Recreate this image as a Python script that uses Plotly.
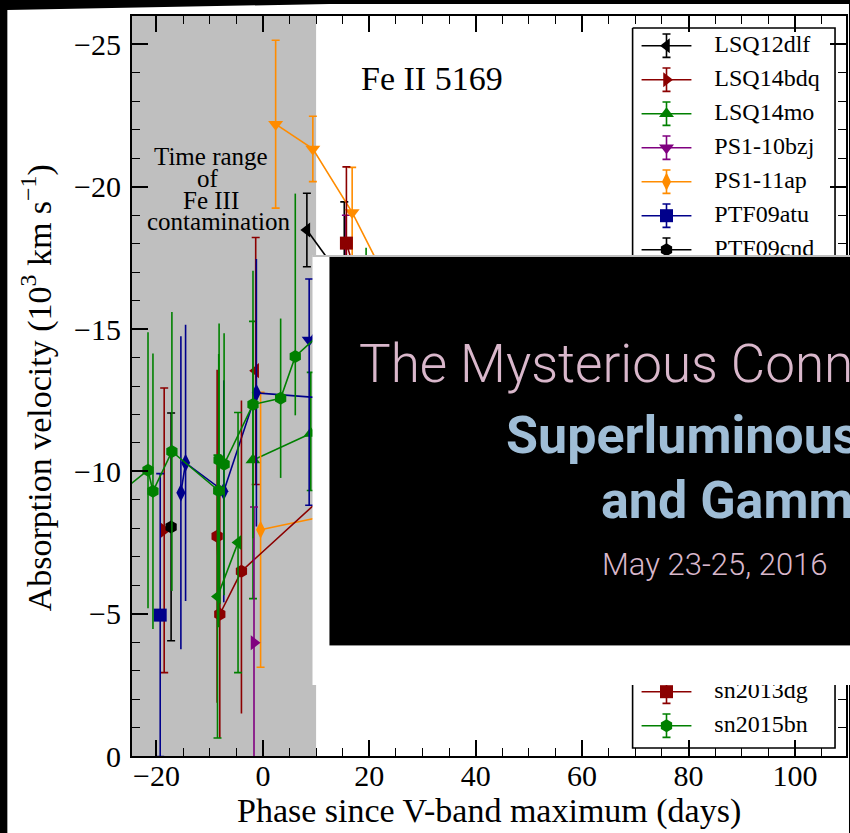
import plotly.graph_objects as go

# ---------------- figure geometry ----------------
FIG_W, FIG_H = 850, 833
M_L, M_R, M_T, M_B = 132, 2, 16, 77

X_RANGE = [-24.6, 109.6]
Y_RANGE = [0, -26]
X_TICKS = [-20, 0, 20, 40, 60, 80, 100]
Y_TICKS = [0, -5, -10, -15, -20, -25]
CONTAM_START, CONTAM_END = -30, 10   # Fe III contamination window (days)

# ---------------- data (phase in days, velocity in 1e3 km/s, errors up/down on screen) ----------------
LSQ12dlf_phase = [8.27, 15.3]
LSQ12dlf_vel = [-18.48, -16.67]
LSQ12dlf_eup = [1.29, 2.8]
LSQ12dlf_edn = [1.29, 2.8]

LSQ14bdq_phase = [-18.55]
LSQ14bdq_vel = [-7.93]
LSQ14bdq_eup = [5.0]
LSQ14bdq_edn = [5.0]

LSQ14mo_phase = [-1.86, 9.0]
LSQ14mo_vel = [-10.4, -11.33]
LSQ14mo_eup = [4.87, 2.15]
LSQ14mo_edn = [4.87, 2.0]

PS1_10bzj_phase = [15.6]
PS1_10bzj_vel = [-16.0]
PS1_10bzj_eup = [3.0]
PS1_10bzj_edn = [3.0]

PS1_11ap_phase = [-0.43, 25.0]
PS1_11ap_vel = [-7.95, -8.95]
PS1_11ap_eup = [4.83, 2.0]
PS1_11ap_edn = [4.83, 2.0]

PTF09atu_phase = [-19.3]
PTF09atu_vel = [-4.95]
PTF09atu_eup = [4.97]
PTF09atu_edn = [4.97]

PTF09cnd_phase = [-17.25]
PTF09cnd_vel = [-8.05]
PTF09cnd_eup = [4.0]
PTF09cnd_edn = [4.0]

# objects whose legend rows are hidden behind the banner (legend slots 7..18)
slot07_phase = [-1.35]
slot07_vel = [-13.54]
slot07_eup = [4.68]
slot07_edn = [4.0]

slot10_phase = [2.4, 9.39, 16.78, 25.0]
slot10_vel = [-22.2, -21.33, -19.1, -16.07]
slot10_eup = [2.95, 1.15, 1.58, 1.4]
slot10_edn = [2.95, 1.15, 1.58, 1.4]

slot11_phase = [-15.41, -14.53, -7.35, -1.22, 25.0]
slot11_vel = [-9.25, -10.3, -9.3, -12.76, -12.38]
slot11_eup = [5.5, 4.85, 3.9, 4.7, 2.0]
slot11_edn = [5.5, 4.85, 3.9, 4.7, 2.0]

slot13_phase = [-8.6, -8.1, -4.03, 20.0]
slot13_vel = [-7.72, -4.98, -6.49, -10.6]
slot13_eup = [5.85, 4.35, 6.0, 2.0]
slot13_edn = [5.85, 4.35, 5.0, 2.0]

slot14_phase = [-8.53, -4.67]
slot14_vel = [-5.6, -7.5]
slot14_eup = [4.97, 4.57]
slot14_edn = [4.97, 4.57]

slot15_phase = [-1.67]
slot15_vel = [-3.98]
slot15_eup = [4.77]
slot15_edn = [4.77]

slot17_phase = [8.7, 18.0]
slot17_vel = [-14.62, -16.8]
slot17_eup = [2.14, 0.6]
slot17_edn = [5.81, 0.6]

sn2013dg_phase = [15.7, 22.0]
sn2013dg_vel = [-18.02, -14.0]
sn2013dg_eup = [2.68, 1.5]
sn2013dg_edn = [2.68, 1.5]

sn2015bn_phase = [-26.0, -21.59, -20.66, -17.1, -8.3, -8.23, -7.29, -1.86, 3.34, 6.09, 19.4]
sn2015bn_vel = [-9.38, -10.04, -9.3, -10.7, -9.32, -10.4, -10.25, -12.35, -12.57, -14.04, -16.3]
sn2015bn_eup = [4.8, 4.85, 4.84, 4.9, 4.8, 4.8, 4.6, 4.7, 2.8, 5.72, 1.56]
sn2015bn_edn = [4.8, 4.85, 4.84, 4.9, 4.8, 4.8, 4.6, 4.7, 2.8, 2.07, 1.56]

LEGEND_NAMES = {0: "LSQ12dlf", 1: "LSQ14bdq", 2: "LSQ14mo", 3: "PS1-10bzj", 4: "PS1-11ap",
                5: "PTF09atu", 6: "PTF09cnd", 19: "sn2013dg", 20: "sn2015bn"}

# ---------------- styles ----------------
COLORS = ["black", "darkred", "green", "purple", "darkorange", "darkblue"]
SYMBOLS = ["triangle-left", "triangle-right", "triangle-up", "triangle-down",
           "diamond-tall", "square", "hexagon"]
SERIF = "Liberation Serif, Times New Roman, serif"
BANNER = "Roboto, Liberation Sans, Arial, sans-serif"

# (slot, phase, vel, err_up, err_down, caps)
series = [
    (0, LSQ12dlf_phase, LSQ12dlf_vel, LSQ12dlf_eup, LSQ12dlf_edn, True),
    (1, LSQ14bdq_phase, LSQ14bdq_vel, LSQ14bdq_eup, LSQ14bdq_edn, True),
    (2, LSQ14mo_phase, LSQ14mo_vel, LSQ14mo_eup, LSQ14mo_edn, True),
    (3, PS1_10bzj_phase, PS1_10bzj_vel, PS1_10bzj_eup, PS1_10bzj_edn, True),
    (4, PS1_11ap_phase, PS1_11ap_vel, PS1_11ap_eup, PS1_11ap_edn, True),
    (5, PTF09atu_phase, PTF09atu_vel, PTF09atu_eup, PTF09atu_edn, True),
    (6, PTF09cnd_phase, PTF09cnd_vel, PTF09cnd_eup, PTF09cnd_edn, True),
    (7, slot07_phase, slot07_vel, slot07_eup, slot07_edn, True),
    (10, slot10_phase, slot10_vel, slot10_eup, slot10_edn, True),
    (11, slot11_phase, slot11_vel, slot11_eup, slot11_edn, False),
    (13, slot13_phase, slot13_vel, slot13_eup, slot13_edn, False),
    (14, slot14_phase, slot14_vel, slot14_eup, slot14_edn, True),
    (15, slot15_phase, slot15_vel, slot15_eup, slot15_edn, True),
    (17, slot17_phase, slot17_vel, slot17_eup, slot17_edn, True),
    (19, sn2013dg_phase, sn2013dg_vel, sn2013dg_eup, sn2013dg_edn, True),
    (20, sn2015bn_phase, sn2015bn_vel, sn2015bn_eup, sn2015bn_edn, False),
]

fig = go.Figure()

for slot, ph, v, eu, ed, caps in series:
    c = COLORS[slot % 6]
    fig.add_trace(go.Scatter(
        x=ph, y=v, mode="lines+markers",
        line=dict(color=c, width=1.6),
        marker=dict(symbol=SYMBOLS[slot % 7], size=13, color=c, line=dict(width=0)),
        error_y=dict(type="data", symmetric=False, array=ed, arrayminus=eu,
                     color=c, thickness=1.6, width=4 if caps else 0),
        showlegend=False, hoverinfo="skip"))

# ---------------- hand-built legend in pixel coordinates (x2/y2) ----------------
LEG_BOX = (634, 837, 28, 748)
ROW0, ROW_STEP = 45.7, 34.0
LINE_X = (643, 693)
MARK_X, TEXT_X, ERR_HALF = 668, 716, 11.7

x0, x1, y0, y1 = LEG_BOX
fig.add_trace(go.Scatter(x=[x0, x1, x1, x0, x0], y=[y0, y0, y1, y1, y0], xaxis="x2", yaxis="y2",
                         mode="lines", fill="toself", fillcolor="white",
                         line=dict(color="black", width=1.6), showlegend=False, hoverinfo="skip"))
for slot, name in LEGEND_NAMES.items():
    c = COLORS[slot % 6]
    yk = ROW0 + ROW_STEP * slot
    fig.add_trace(go.Scatter(x=list(LINE_X), y=[yk, yk], xaxis="x2", yaxis="y2", mode="lines",
                             line=dict(color=c, width=1.6), showlegend=False, hoverinfo="skip"))
    fig.add_trace(go.Scatter(x=[MARK_X], y=[yk], xaxis="x2", yaxis="y2", mode="markers",
                             marker=dict(symbol=SYMBOLS[slot % 7], size=13, color=c),
                             error_y=dict(type="constant", value=ERR_HALF, color=c, thickness=1.6, width=4),
                             showlegend=False, hoverinfo="skip"))
    fig.add_trace(go.Scatter(x=[TEXT_X], y=[yk], xaxis="x2", yaxis="y2", mode="text",
                             text=[name], textposition="middle right",
                             textfont=dict(family=SERIF, size=24, color="black"),
                             showlegend=False, hoverinfo="skip"))

PW = FIG_W - M_L - M_R
PH = FIG_H - M_T - M_B


def pxx(px):
    return (px - M_L) / PW


def pxy(py):
    return (FIG_H - M_B - py) / PH


axis_common = dict(showgrid=False, zeroline=False, showline=True, linecolor="black", linewidth=2,
                   mirror="ticks", ticks="inside", ticklen=16, tickwidth=1.5, tickcolor="black",
                   tickfont=dict(family=SERIF, size=30, color="black"))

fig.update_layout(
    width=FIG_W, height=FIG_H,
    margin=dict(l=M_L, r=M_R, t=M_T, b=M_B, pad=0),
    paper_bgcolor="black", plot_bgcolor="white",
    xaxis=dict(range=X_RANGE, tickvals=X_TICKS, ticklabelstandoff=-8,
               minor=dict(dtick=5, tick0=0, ticks="inside", ticklen=8, tickwidth=1.2, tickcolor="black"),
               **axis_common),
    yaxis=dict(range=Y_RANGE, tickvals=Y_TICKS, ticklabelstandoff=3,
               minor=dict(dtick=1, tick0=0, ticks="inside", ticklen=8, tickwidth=1.2, tickcolor="black"),
               **axis_common),
    xaxis2=dict(overlaying="x", anchor="y2", range=[M_L, FIG_W - M_R], visible=False),
    yaxis2=dict(overlaying="y", anchor="x2", range=[FIG_H - M_B, M_T], visible=False),
    showlegend=False,
)


def page_path():
    # white page inside the black screen border (band a little thicker at upper left)
    pts = [(7, 834), (7, 10), (330, 4), (851, 4), (851, 834)]
    d = "M " + " L ".join(f"{pxx(x):.5f},{pxy(y):.5f}" for x, y in pts) + " Z"
    return d


shapes = [
    dict(type="path", xref="paper", yref="paper", path=page_path(),
         fillcolor="white", line=dict(width=0), layer="below"),
    # Fe III contamination window
    dict(type="rect", xref="x", yref="y", x0=CONTAM_START, x1=CONTAM_END, y0=Y_RANGE[0], y1=Y_RANGE[1],
         fillcolor="#bfbfbf", line=dict(width=0), layer="below"),
    # banner covering part of the plot
    dict(type="rect", xref="paper", yref="paper", x0=pxx(313), x1=pxx(860), y0=pxy(685), y1=pxy(255),
         fillcolor="white", line=dict(width=0), layer="above"),
    dict(type="rect", xref="paper", yref="paper", x0=pxx(330), x1=pxx(860), y0=pxy(645), y1=pxy(257),
         fillcolor="black", line=dict(width=0), layer="above"),
    dict(type="line", xref="paper", yref="paper", x0=pxx(313), x1=pxx(860), y0=pxy(256), y1=pxy(256),
         line=dict(color="#808080", width=1), layer="above"),
    dict(type="line", xref="paper", yref="paper", x0=pxx(330), x1=pxx(860), y0=pxy(645.5), y1=pxy(645.5),
         line=dict(color="#909090", width=1), layer="above"),
]
fig.update_layout(shapes=shapes)


def ann(text, px, baseline, size, family=SERIF, color="black", xanchor="left", weight="normal"):
    return dict(text=text, xref="paper", yref="paper", x=pxx(px), y=pxy(baseline - 0.345 * size),
                xanchor=xanchor, yanchor="middle", showarrow=False,
                font=dict(family=family, size=size, color=color, weight=weight))


PINK = "#d9b7cb"
BLUE = "#9fbdd6"
annotations = [
    ann("Fe II 5169", 360, 90.7, 34),
    ann("Time range", 211, 165, 25, xanchor="center"),
    ann("of", 208, 186.7, 25, xanchor="center"),
    ann("Fe III", 211, 209.3, 25, xanchor="center"),
    ann("contamination", 219, 230, 25, xanchor="center"),
    ann("Phase since V-band maximum (days)", 490, 823, 34, xanchor="center"),
    dict(text="Absorption velocity (10<sup>3</sup> km s<sup>\u22121</sup>)", xref="paper", yref="paper",
         x=pxx(36.6), y=pxy(387.5), xanchor="center", yanchor="middle", textangle=-90, showarrow=False,
         font=dict(family=SERIF, size=34, color="black")),
    # banner text
    ann("The Mysterious Connection", 358, 382, 53, family=BANNER, color=PINK, weight=300),
    ann("Superluminous Supernovae", 505, 453, 52, family=BANNER, color=BLUE, weight="bold"),
    ann("and Gamma-Ray Bursts", 600, 518, 52, family=BANNER, color=BLUE, weight="bold"),
    ann("May 23-25, 2016", 601, 575, 31, family=BANNER, color=PINK, weight=300),
]
fig.update_layout(annotations=annotations)

fig.write_html("out.html", config={"displayModeBar": False})
